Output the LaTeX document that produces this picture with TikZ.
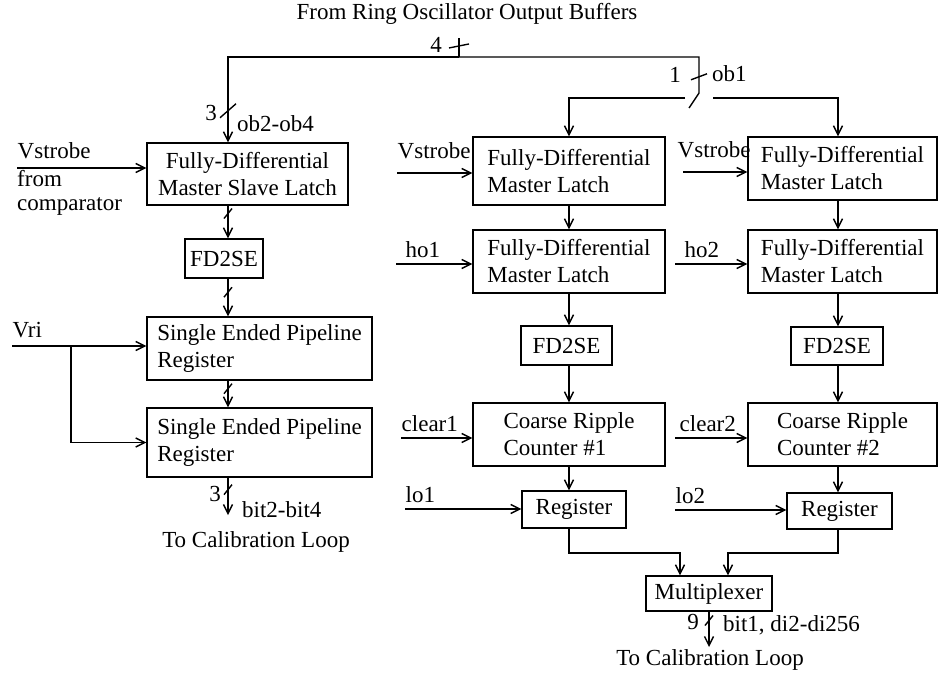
\documentclass[tikz,border=0pt]{standalone}
\usepackage{fontspec}
\setmainfont{Liberation Serif}
\usetikzlibrary{positioning, calc, arrows.meta}

\begin{document}
\begin{tikzpicture}[
  x=1pt, y=-1pt,
  font=\fontsize{23}{27}\selectfont,
  wire/.style={line width=1.4pt},
  sig/.style={wire, -{Straight Barb[length=9pt, width=9pt]}},
  box/.style={draw, line width=1.4pt, inner sep=3pt, align=left},
  txt/.style={inner sep=0pt},
  lbl/.style={anchor=base west, inner sep=0pt, yshift=7pt},
]
\useasboundingbox (0,0) rectangle (940,675);

% x positions of the vertical signal lines
\pgfmathsetmacro{\xL}{228}
\pgfmathsetmacro{\xM}{569}
\pgfmathsetmacro{\xR}{838}
\coordinate (colL) at (\xL,0);
\coordinate (colM) at (\xM,0);
\coordinate (colR) at (\xR,0);

% ---- blocks ----
% left column
\node[box, minimum width=201pt, minimum height=62pt, align=center] (L1) at (247.5,174) {Fully-Differential\\Master Slave Latch};
\node[box, minimum width=78pt, minimum height=39pt] (FDL) at (224,258.5) {FD2SE};
\node[box, minimum width=225pt, minimum height=63pt] (L3) at (259.5,348.5) {Single Ended Pipeline\\Register};
\node[box, minimum width=225pt, minimum height=69pt] (L4) at (259.5,442.5) {Single Ended Pipeline\\Register};
% middle column
\node[box, minimum width=192pt, minimum height=68pt] (M1) at (569,171) {Fully-Differential\\Master Latch};
\node[box, minimum width=192pt, minimum height=63pt] (M2) at (569,261.5) {Fully-Differential\\Master Latch};
\node[box, minimum width=91pt, minimum height=39pt] (FDM) at (566.5,345.5) {FD2SE};
\node[box, minimum width=192pt, minimum height=63pt] (C1) at (569,434.5) {Coarse Ripple\\Counter \#1};
\node[box, minimum width=104pt, minimum height=37pt] (Reg1) at (574,509.5) {Register};
% right column
\node[box, minimum width=189pt, minimum height=63pt] (R1) at (842.5,168.5) {Fully-Differential\\Master Latch};
\node[box, minimum width=189pt, minimum height=63pt] (R2) at (842.5,261.5) {Fully-Differential\\Master Latch};
\node[box, minimum width=92pt, minimum height=38pt] (FDR) at (837,346) {FD2SE};
\node[box, minimum width=189pt, minimum height=63pt] (C2) at (842.5,434.5) {Coarse Ripple\\Counter \#2};
\node[box, minimum width=105pt, minimum height=36pt] (Reg2) at (839.5,511) {Register};
% output mux
\node[box, minimum width=126pt, minimum height=35pt] (Mux) at (709,593.5) {Multiplexer};

% ---- ring oscillator bus ----
\node[txt] (title) at (467,14) {From Ring Oscillator Output Buffers};
\coordinate (busin) at (459,38);
\coordinate (bus) at (459,57);
\coordinate (swtop) at (699,93);
\coordinate (swend) at (689,108);
\coordinate (swL) at (685,98);
\coordinate (swR) at (713,98);

\draw[wire] (busin) -- coordinate[pos=0.42] (s0) (bus);
\draw[wire] (bus) -- (swtop |- bus) -- coordinate[pos=0.55] (s1) (swtop) -- (swend);
\draw[sig] (bus) -- (bus -| colL) -- coordinate[pos=0.63] (s3) (L1.north -| colL);
\draw[sig] (swL) -- (swL -| colM) -- (M1.north -| colM);
\draw[sig] (swR) -- (swR -| colR) -- (R1.north -| colR);

\node[txt] (n4) at (436,45) {4};
\node[txt] (n1) at (675,75) {1};
\node[txt, anchor=west] (ob1) at (712,74) {ob1};
\node[txt] (n3a) at (211,113) {3};
\node[txt, anchor=west] (obr) at (237,124) {ob2-ob4};

% ---- vertical signal flow ----
\foreach \a/\b/\p [count=\k from 4] in {L1/FDL/0.24, FDL/L3/0.36, L3/L4/0.3}{
  \draw[sig] (\a.south -| colL) -- coordinate[pos=\p] (s\k) (\b.north -| colL);
}
\foreach \a/\b in {M1/M2, M2/FDM, FDM/C1, C1/Reg1}{
  \draw[sig] (\a.south -| colM) -- (\b.north -| colM);
}
\foreach \a/\b in {R1/R2, R2/FDR, FDR/C2, C2/Reg2}{
  \draw[sig] (\a.south -| colR) -- (\b.north -| colR);
}

% registers into the multiplexer
\coordinate (mgL) at (680,553);
\coordinate (mgR) at (728,553);
\draw[sig] (Reg1.south -| colM) |- (mgL) -- (Mux.north -| mgL);
\draw[sig] (Reg2.south -| colR) |- (mgR) -- (Mux.north -| mgR);

% ---- outputs ----
\coordinate (outL) at (\xL,515);
\coordinate (outM) at (709,647);
\draw[sig] (L4.south -| colL) -- coordinate[pos=0.32] (s7) (outL);
\draw[sig] (Mux.south -| outM) -- coordinate[pos=0.25] (s9) (outM);
\node[txt] (n3b) at (215,494) {3};
\node[txt, anchor=west] (bitL) at (242,510) {bit2-bit4};
\node[txt] (calL) at (256,542) {To Calibration Loop};
\node[txt] (n9) at (693,622) {9};
\node[txt, anchor=west] (bitM) at (723,625) {bit1, di2-di256};
\node[txt] (calM) at (710,660) {To Calibration Loop};

% ---- bus width marks ----
\foreach \s in {s4,s5,s6,s7,s9}{
  \draw[wire] (\s) +(-4,5) -- +(4,-5);
}
\draw[wire] (s3) +(-8,7) -- +(8,-7);
\draw[wire] (s1) +(-8,3) -- +(8,-3);
\draw[wire] (s0) +(-10,2) -- +(10,-2);

% ---- control inputs ----
\coordinate (vsL) at (17,168);
\coordinate (vsM) at (397,173);
\coordinate (vsR) at (683,172);
\coordinate (ho1) at (396,264);
\coordinate (ho2) at (675,264);
\coordinate (cl1) at (401,438);
\coordinate (cl2) at (675,438);
\coordinate (lo1) at (405,509);
\coordinate (lo2) at (675,510);
\coordinate (vri) at (12,346);
\coordinate (vriJ) at (71,346);

\draw[sig] (vsL) node[lbl, yshift=3pt] {Vstrobe} -- (vsL -| L1.west);
\node[txt, anchor=north west, align=left, font=\fontsize{23}{24}\selectfont] (cmp) at (17,170) {from\\comparator};
\draw[sig] (vsM) node[lbl, yshift=8pt] {Vstrobe} -- (vsM -| M1.west);
\draw[sig] (vsR) node[lbl, xshift=-6pt, yshift=8pt] {Vstrobe} -- (vsR -| R1.west);
\draw[sig] (ho1) node[lbl, xshift=9pt] {ho1} -- (ho1 -| M2.west);
\draw[sig] (ho2) node[lbl, xshift=9pt] {ho2} -- (ho2 -| R2.west);
\draw[sig] (cl1) node[lbl] {clear1} -- (cl1 -| C1.west);
\draw[sig] (cl2) node[lbl, xshift=4pt] {clear2} -- (cl2 -| C2.west);
\draw[sig] (lo1) node[lbl] {lo1} -- (lo1 -| Reg1.west);
\draw[sig] (lo2) node[lbl] {lo2} -- (lo2 -| Reg2.west);
\draw[sig] (vri) node[lbl, yshift=2pt] {Vri} -- (vri -| L3.west);
\draw[sig] (vriJ) |- (L4.west);

\end{tikzpicture}
\end{document}
